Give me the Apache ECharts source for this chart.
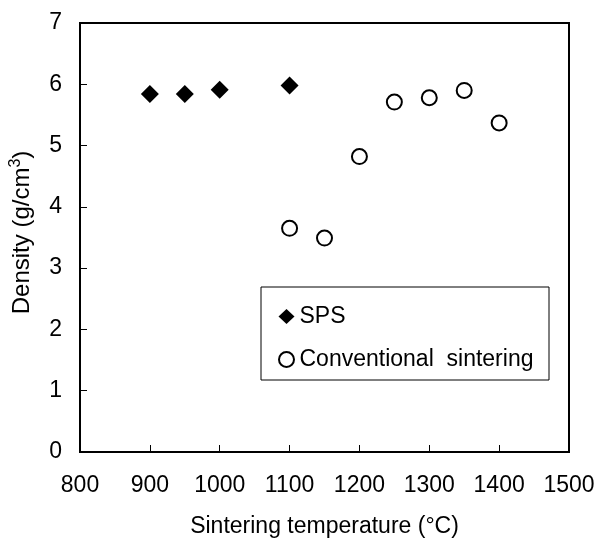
<!DOCTYPE html>
<html><head><meta charset="utf-8">
<script src="https://cdn.jsdelivr.net/npm/echarts@6/dist/echarts.min.js"></script>
<style>html,body{margin:0;padding:0;background:#fff}#c{width:598px;height:539px}</style>
</head><body><div id="c"></div>
<script>
const spsTemp = [900, 950, 1000, 1100];
const spsDensity = [5.84, 5.84, 5.91, 5.98];
const convTemp = [1100, 1150, 1200, 1250, 1300, 1350, 1400];
const convDensity = [3.65, 3.49, 4.82, 5.71, 5.78, 5.90, 5.37];
const xTicks = [800, 900, 1000, 1100, 1200, 1300, 1400, 1500];
const yTicks = [0, 1, 2, 3, 4, 5, 6, 7];

const FONT = '"Liberation Sans", Arial, sans-serif';
const FS = 23;
const chart = echarts.init(document.getElementById('c'), null, {renderer: 'canvas'});
chart.setOption({
  animation: false,
  backgroundColor: '#fff',
  grid: {left: 80, top: 23, right: 29, bottom: 87, show: true, borderColor: '#000', borderWidth: 2,
         containLabel: false, outerBoundsMode: 'none'},
  xAxis: {
    type: 'value', min: xTicks[0], max: xTicks[xTicks.length - 1], interval: 100,
    name: 'Sintering temperature (°C)', nameLocation: 'middle', nameGap: 63,
    nameTextStyle: {fontFamily: FONT, fontSize: FS, color: '#000'},
    axisLine: {lineStyle: {color: '#000', width: 2}},
    axisTick: {inside: true, length: 7, lineStyle: {color: '#000', width: 1}},
    axisLabel: {fontFamily: FONT, fontSize: FS, color: '#000', margin: 22, formatter: v => String(v)},
    splitLine: {show: false}
  },
  yAxis: {
    type: 'value', min: yTicks[0], max: yTicks[yTicks.length - 1], interval: 1,
    name: '{a|Density (g/cm}{s|3}{b|)}', nameLocation: 'middle', nameGap: 44,
    nameTextStyle: {fontFamily: FONT, fontSize: 24, color: '#000',
      rich: {a: {fontFamily: FONT, fontSize: 24, color: '#000', padding: [0,0,0,10]},
             b: {fontFamily: FONT, fontSize: 24, color: '#000'},
             s: {fontFamily: FONT, fontSize: 16, color: '#000', verticalAlign: 'bottom', padding: [0,0,12,0]}}},
    axisLine: {lineStyle: {color: '#000', width: 2}},
    axisTick: {inside: true, length: 7, lineStyle: {color: '#000', width: 1}},
    axisLabel: {fontFamily: FONT, fontSize: FS, color: '#000', margin: 18},
    splitLine: {show: false}
  },
  legend: {
    orient: 'vertical', left: 273, top: 300, itemGap: 20, itemWidth: 16, itemHeight: 15,
    textStyle: {fontFamily: FONT, fontSize: FS, color: '#000'},
    data: [
      {name: 'SPS', icon: 'diamond', itemStyle: {color: '#000', borderWidth: 0}},
      {name: 'Conventional  sintering', icon: 'circle', itemStyle: {color: '#fff', borderColor: '#000', borderWidth: 2}}
    ]
  },
  graphic: [{type: 'rect', shape: {x: 261, y: 287, width: 288, height: 93}, style: {fill: 'none', stroke: '#000', lineWidth: 1}, z: 100}],
  series: [
    {name: 'SPS', type: 'scatter', symbol: 'diamond', symbolSize: 18,
     itemStyle: {color: '#000', opacity: 1},
     data: spsTemp.map((t, i) => [t, spsDensity[i]])},
    {name: 'Conventional  sintering', type: 'scatter', symbol: 'circle', symbolSize: 15,
     itemStyle: {color: '#fff', borderColor: '#000', borderWidth: 2, opacity: 1},
     data: convTemp.map((t, i) => [t, convDensity[i]])}
  ]
});
</script></body></html>
